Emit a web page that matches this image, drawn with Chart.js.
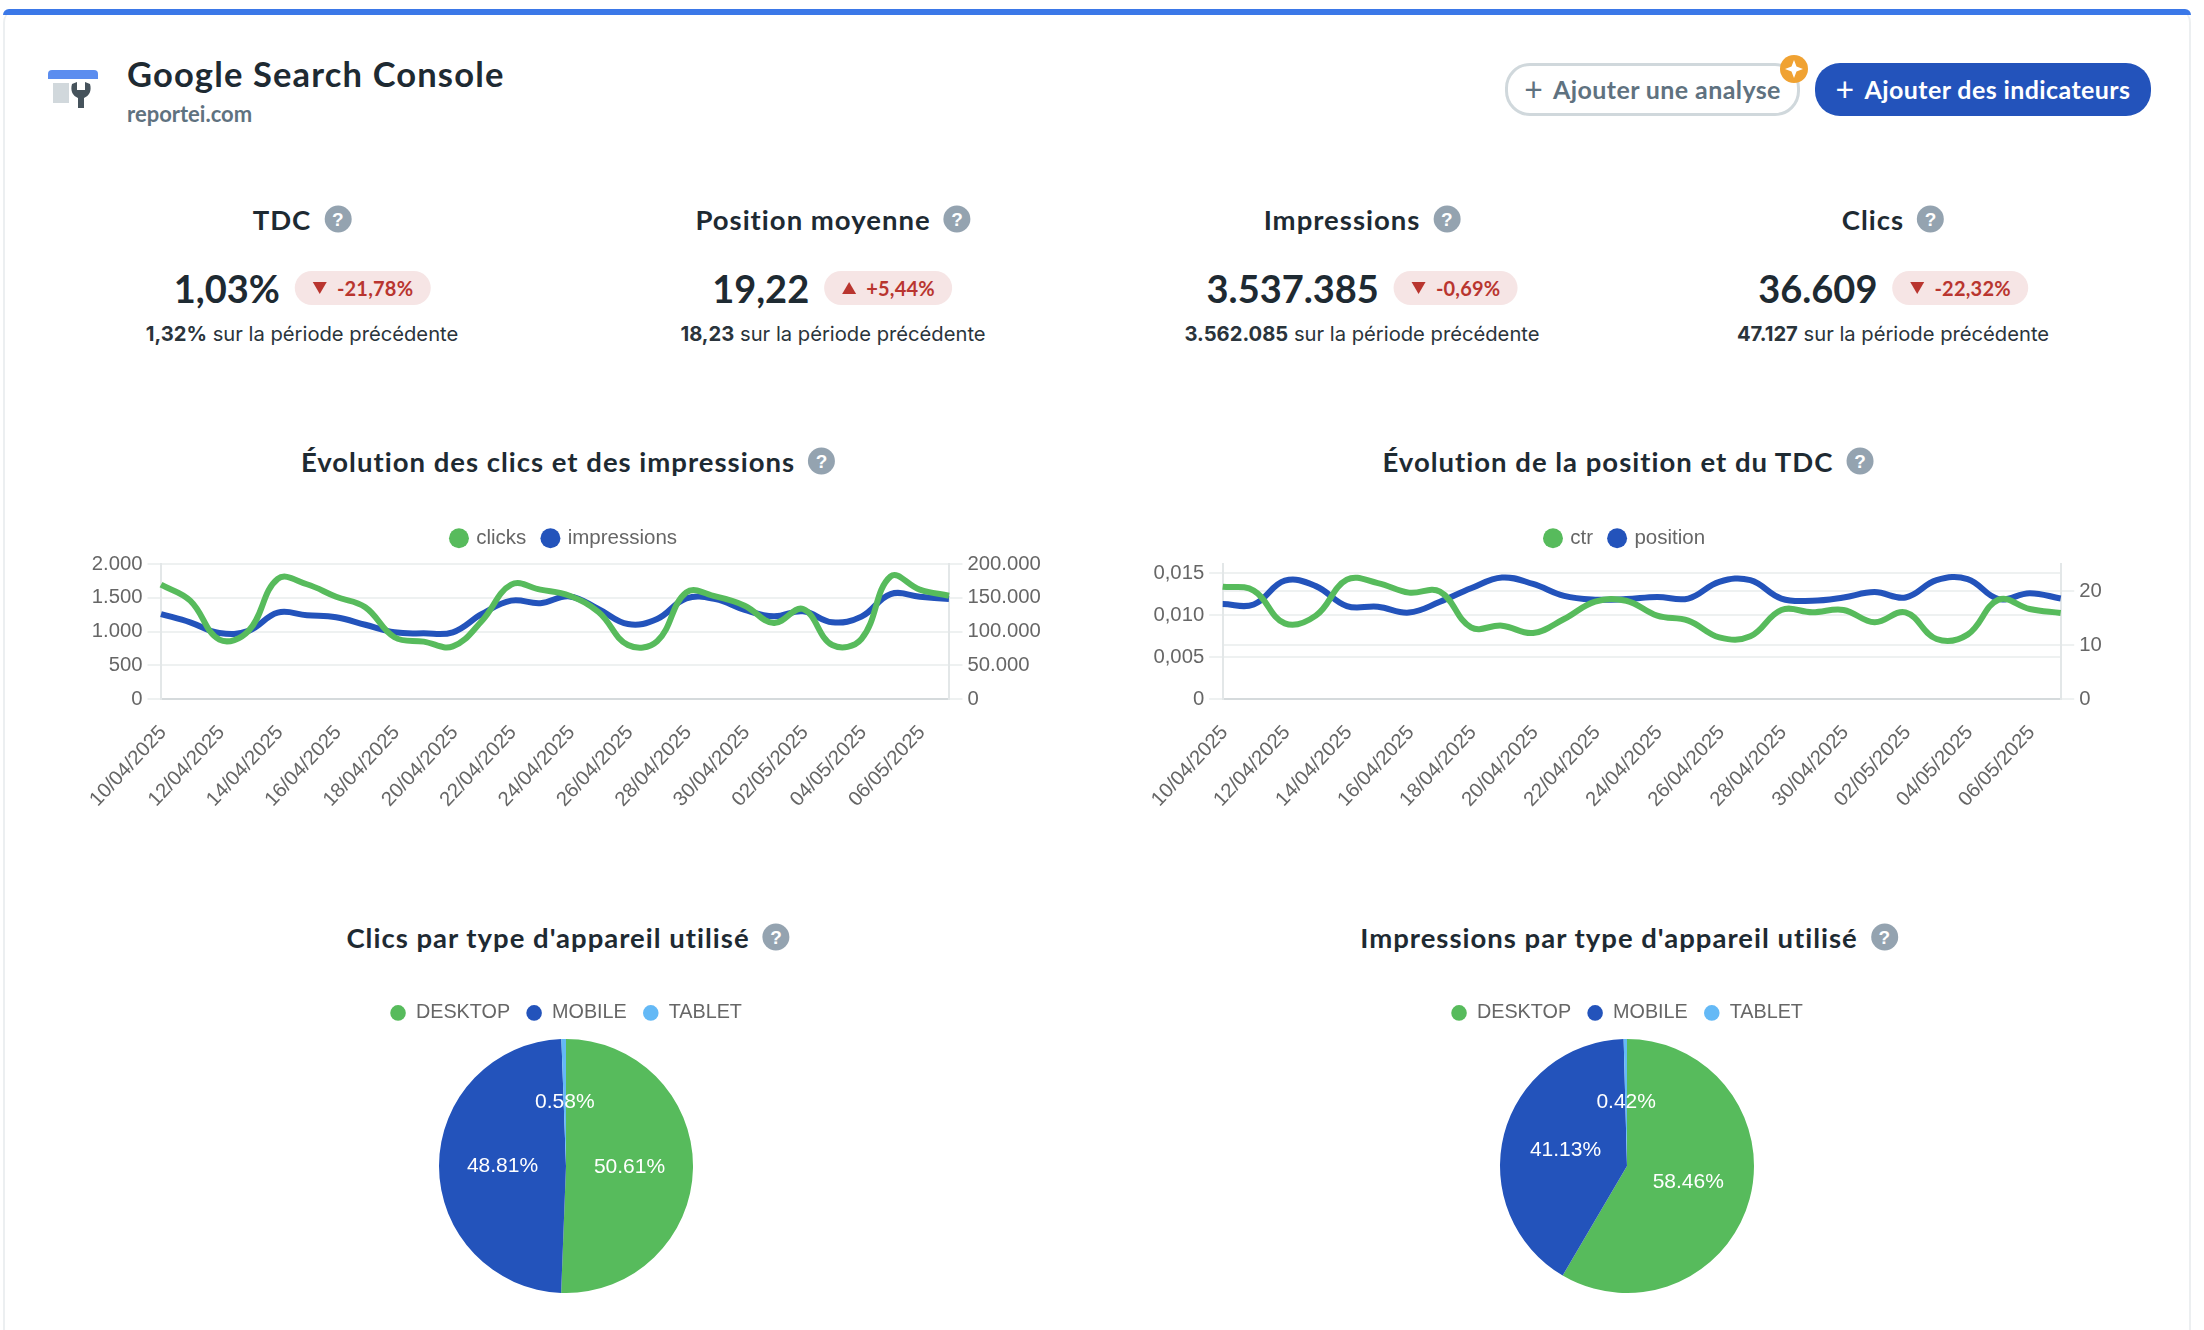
<!DOCTYPE html>
<html lang="fr">
<head>
<meta charset="utf-8">
<title>Google Search Console</title>
<script src="https://cdn.jsdelivr.net/npm/chart.js@4"></script>
<style>
    html, body { margin: 0; padding: 0; background: #fff; width: 2204px; height: 1330px; overflow: hidden; }
    body { position: relative; font-family: "Lato", sans-serif; color: #1e2a32; }
    .abs { position: absolute; white-space: nowrap; }
    canvas { position: absolute; }
    #card { left: 3px; top: 9px; width: 2188px; height: 1340px; border: 2px solid #eceff1; border-top: 0; border-radius: 14px 14px 0 0; box-sizing: border-box; }
    #bar { left: 3px; top: 9px; width: 2188px; height: 6px; background: #3b78e8; border-radius: 8px 8px 0 0; }
    .row { transform: translate(-50%, -50%); display: flex; align-items: center; }
    .head { font-weight: 700; font-size: 27.5px; letter-spacing: 1px; gap: 13px; }
    .value { font-weight: 700; font-size: 38px; gap: 15px; }
    .sub { font-family: "Inter", sans-serif; font-size: 20.2px; color: #2a343b; white-space: pre; }
    .sub b { font-weight: 700; }
    .help { width: 27px; height: 27px; border-radius: 50%; background: #94a3b0; color: #fff; font: 700 19px "Liberation Sans", sans-serif; display: flex; align-items: center; justify-content: center; letter-spacing: 0; }
    .badge { height: 34px; padding: 0 17px 0 18px; border-radius: 17px; background: #f6e5e5; color: #b9352f; font: 700 20px "Lato", sans-serif; letter-spacing: 0.2px; display: flex; align-items: center; gap: 10px; }
    .down { border-left: 7.5px solid transparent; border-right: 7.5px solid transparent; border-top: 12px solid #b9352f; }
    .up { border-left: 7.5px solid transparent; border-right: 7.5px solid transparent; border-bottom: 12px solid #b9352f; }
    .btn { top: 63px; height: 53px; padding-bottom: 2px; box-sizing: border-box; border-radius: 25px; font-weight: 700; font-size: 25px; letter-spacing: 0.4px; display: flex; align-items: center; justify-content: center; gap: 10px; }
</style>
</head>
<body>
<div class="abs" id="card"></div>
<div class="abs" id="bar"></div>

<svg class="abs" style="left:48px;top:70px" width="52" height="40" viewBox="0 0 52 40">
    <path d="M0 9V4a4 4 0 0 1 4-4h42a4 4 0 0 1 4 4v5z" fill="#5b8def"/>
    <rect x="5" y="13" width="16" height="20" fill="#d1d8dc"/>
    <path d="M24 14l5-2v8h8v-8l5 2c2 7-1 12-6 14v10h-6V28c-5-2-8-7-6-14z" fill="#46535c"/>
</svg>
<div class="abs" style="left:127px;top:53px;font-weight:700;font-size:34.5px;letter-spacing:1.15px">Google Search Console</div>
<div class="abs" style="left:127px;top:100px;font-weight:700;font-size:22px;color:#5f7280">reportei.com</div>

<div class="abs btn" style="left:1505px;width:295px;border:3px solid #d0d8dc;background:#fff;color:#5f7280"><span style="font-weight:400;font-size:32px">+</span>Ajouter une analyse</div>
<svg class="abs" style="left:1780px;top:55px" width="28" height="28" viewBox="0 0 28 28">
    <circle cx="14" cy="14" r="14" fill="#f0a232"/>
    <path d="M14 5l2.5 6.5L23 14l-6.5 2.5L14 23l-2.5-6.5L5 14l6.5-2.5z" fill="#fff"/>
</svg>
<div class="abs btn" style="left:1815px;width:336px;background:#2353bb;color:#fff"><span style="font-weight:400;font-size:32px">+</span>Ajouter des indicateurs</div>

<div class="abs row head" style="left:302px;top:219px">TDC<span class="help">?</span></div>
<div class="abs row value" style="left:302px;top:288px">1,03%<span class="badge"><i class="down"></i>-21,78%</span></div>
<div class="abs row sub" style="left:302px;top:333px"><b>1,32%</b> sur la période précédente</div>

<div class="abs row head" style="left:833px;top:219px">Position moyenne<span class="help">?</span></div>
<div class="abs row value" style="left:832px;top:288px">19,22<span class="badge"><i class="up"></i>+5,44%</span></div>
<div class="abs row sub" style="left:833px;top:333px"><b>18,23</b> sur la période précédente</div>

<div class="abs row head" style="left:1362px;top:219px">Impressions<span class="help">?</span></div>
<div class="abs row value" style="left:1362px;top:288px">3.537.385<span class="badge"><i class="down"></i>-0,69%</span></div>
<div class="abs row sub" style="left:1362px;top:333px"><b>3.562.085</b> sur la période précédente</div>

<div class="abs row head" style="left:1893px;top:219px">Clics<span class="help">?</span></div>
<div class="abs row value" style="left:1893px;top:288px">36.609<span class="badge"><i class="down"></i>-22,32%</span></div>
<div class="abs row sub" style="left:1893px;top:333px"><b>47.127</b> sur la période précédente</div>

<div class="abs row head" style="left:568px;top:461px">Évolution des clics et des impressions<span class="help">?</span></div>
<div class="abs row head" style="left:1628px;top:461px">Évolution de la position et du TDC<span class="help">?</span></div>
<div class="abs row head" style="left:568px;top:937px">Clics par type d'appareil utilisé<span class="help">?</span></div>
<div class="abs row head" style="left:1629px;top:937px">Impressions par type d'appareil utilisé<span class="help">?</span></div>

<canvas id="clicks_chart" width="1049" height="304" style="left:40px;top:511px"></canvas>
<canvas id="position_chart" width="1051" height="304" style="left:1100px;top:511px"></canvas>
<canvas id="clicks_device_chart" width="420" height="306" style="left:356px;top:987px"></canvas>
<canvas id="impressions_device_chart" width="420" height="306" style="left:1417px;top:987px"></canvas>

<script>
const dates = ['10/04/2025', '11/04/2025', '12/04/2025', '13/04/2025', '14/04/2025', '15/04/2025', '16/04/2025',
    '17/04/2025', '18/04/2025', '19/04/2025', '20/04/2025', '21/04/2025', '22/04/2025', '23/04/2025',
    '24/04/2025', '25/04/2025', '26/04/2025', '27/04/2025', '28/04/2025', '29/04/2025', '30/04/2025',
    '01/05/2025', '02/05/2025', '03/05/2025', '04/05/2025', '05/05/2025', '06/05/2025', '07/05/2025'];
const clicks = [1694, 1457, 880, 1010, 1780, 1700, 1515, 1360, 915, 850, 780, 1160, 1694, 1620,
    1530, 1284, 800, 855, 1580, 1520, 1383, 1126, 1333, 800, 889, 1817, 1620, 1530];
const impressions = [125900, 113600, 97800, 101000, 128000, 124000, 121000, 110000, 98800, 97300, 98800, 126000, 145700, 142000,
    152000, 133000, 111000, 118500, 149000, 148000, 132000, 122500, 130000, 113600, 122000, 155500, 151600, 148000];
const ctr = [0.01337, 0.0129, 0.0090, 0.00992, 0.0142, 0.0138, 0.01266, 0.01278, 0.00853, 0.00873, 0.00786, 0.00952, 0.01159, 0.0117,
    0.00992, 0.00933, 0.00734, 0.00746, 0.0106, 0.01032, 0.0106, 0.00913, 0.01032, 0.00714, 0.00766, 0.01183, 0.01071, 0.01024];
const position = [17.6, 17.5, 21.9, 20.9, 17.2, 17.1, 16.0, 18.0, 20.5, 22.5, 21.3, 19.1, 18.4, 18.5,
    18.9, 18.6, 21.7, 22.0, 18.6, 18.2, 18.8, 19.8, 18.8, 22.0, 22.2, 18.5, 19.6, 18.6];
const devices = ['DESKTOP', 'MOBILE', 'TABLET'];
const clicksByDevice = [50.61, 48.81, 0.58];
const impressionsByDevice = [58.46, 41.13, 0.42];

const GREEN = '#57bb5c';
const BLUE = '#2353bb';
const LIGHT_BLUE = '#64b9f6';
const FONT = { family: '"Liberation Sans", Arial, sans-serif', size: 20.3 };

Chart.defaults.color = '#666';
Chart.defaults.font.family = FONT.family;
Chart.defaults.font.size = FONT.size;
Chart.defaults.animation = false;

// legend height is forced so the plot starts where it does in the original
function legendHeight(height)
{
    return {
        id: 'legendHeight',
        beforeInit(chart) {
            const fit = chart.legend.fit;
            chart.legend.fit = function () {
                fit.call(this);
                this.height = height;
            };
        }
    };
}

const formatTick = (value) => value.toLocaleString('de-DE');
const formatRate = (value) => (value === 0 ? '0' : value.toLocaleString('de-DE', { minimumFractionDigits: 3, maximumFractionDigits: 3 }));
const axisWidth = (width) => (scale) => { scale.width = width; };

function yAxis(position, width, max, stepSize, format)
{
    return {
        position: position,
        min: 0,
        max: max,
        afterFit: axisWidth(width),
        grid: { color: '#eef1f1', lineWidth: 2, tickLength: 13.5 },
        border: { color: '#e3e7e8', width: 2 },
        ticks: { stepSize: stepSize, padding: 5, includeBounds: false, callback: format }
    };
}

function lineChart(id, names, values, leftAxis, rightAxis)
{
    const makeDataset = (i, color, axis) => ({
        label: names[i],
        data: values[i],
        yAxisID: axis,
        borderColor: color,
        backgroundColor: color,
        borderWidth: 6,
        pointRadius: 0,
        tension: 0.4
    });
    return new Chart(document.getElementById(id), {
        type: 'line',
        data: {
            labels: dates,
            datasets: [makeDataset(0, GREEN, 'y'), makeDataset(1, BLUE, 'y1')]
        },
        options: {
            responsive: false,
            scales: {
                x: {
                    afterFit: (scale) => { scale.height = 116; },
                    grid: { display: false, tickLength: 0 },
                    border: { color: '#d5dadc', width: 2 },
                    ticks: {
                        autoSkip: false,
                        minRotation: 47,
                        maxRotation: 47,
                        padding: 22,
                        labelOffset: 2,
                        callback: (value, index) => (index % 2 === 0 ? dates[index] : null)
                    }
                },
                y: leftAxis,
                y1: rightAxis
            },
            plugins: {
                tooltip: { enabled: false },
                legend: {
                    labels: {
                        usePointStyle: true,
                        pointStyle: 'circle',
                        boxHeight: 14.1,
                        boxWidth: 14.1,
                        padding: 17,
                        font: { size: 20.5 },
                        generateLabels: (chart) => Chart.defaults.plugins.legend.labels.generateLabels(chart)
                            .map((item) => ({ ...item, lineWidth: 0 }))
                    }
                }
            }
        },
        plugins: [legendHeight(53)]
    });
}

// white percentage in the middle of each slice
const sliceLabels = {
    id: 'sliceLabels',
    afterDatasetsDraw(chart) {
        const ctx = chart.ctx;
        const values = chart.data.datasets[0].data;
        ctx.save();
        ctx.fillStyle = '#fff';
        ctx.font = '21px ' + FONT.family;
        ctx.textAlign = 'center';
        ctx.textBaseline = 'middle';
        chart.getDatasetMeta(0).data.forEach((arc, i) => {
            const center = arc.getCenterPoint();
            ctx.fillText(values[i].toFixed(2) + '%', center.x, center.y);
        });
        ctx.restore();
    }
};

function pieChart(id, values)
{
    return new Chart(document.getElementById(id), {
        type: 'pie',
        data: {
            labels: devices,
            datasets: [{
                data: values,
                backgroundColor: [GREEN, BLUE, LIGHT_BLUE],
                borderWidth: 0
            }]
        },
        options: {
            responsive: false,
            plugins: {
                tooltip: { enabled: false },
                legend: {
                    labels: {
                        usePointStyle: true,
                        pointStyle: 'circle',
                        boxHeight: 11,
                        boxWidth: 16,
                        padding: 16,
                        font: { size: 19.8 }
                    }
                }
            }
        },
        plugins: [legendHeight(52), sliceLabels]
    });
}

lineChart('clicks_chart', ['clicks', 'impressions'], [clicks, impressions],
    yAxis('left', 121, 2000, 500, formatTick), yAxis('right', 140, 200000, 50000, formatTick));
lineChart('position_chart', ['ctr', 'position'], [ctr, position],
    yAxis('left', 122.7, 0.01607, 0.005, formatRate), yAxis('right', 90.3, 25, 10, formatTick));
pieChart('clicks_device_chart', clicksByDevice);
pieChart('impressions_device_chart', impressionsByDevice);
</script>
</body>
</html>
